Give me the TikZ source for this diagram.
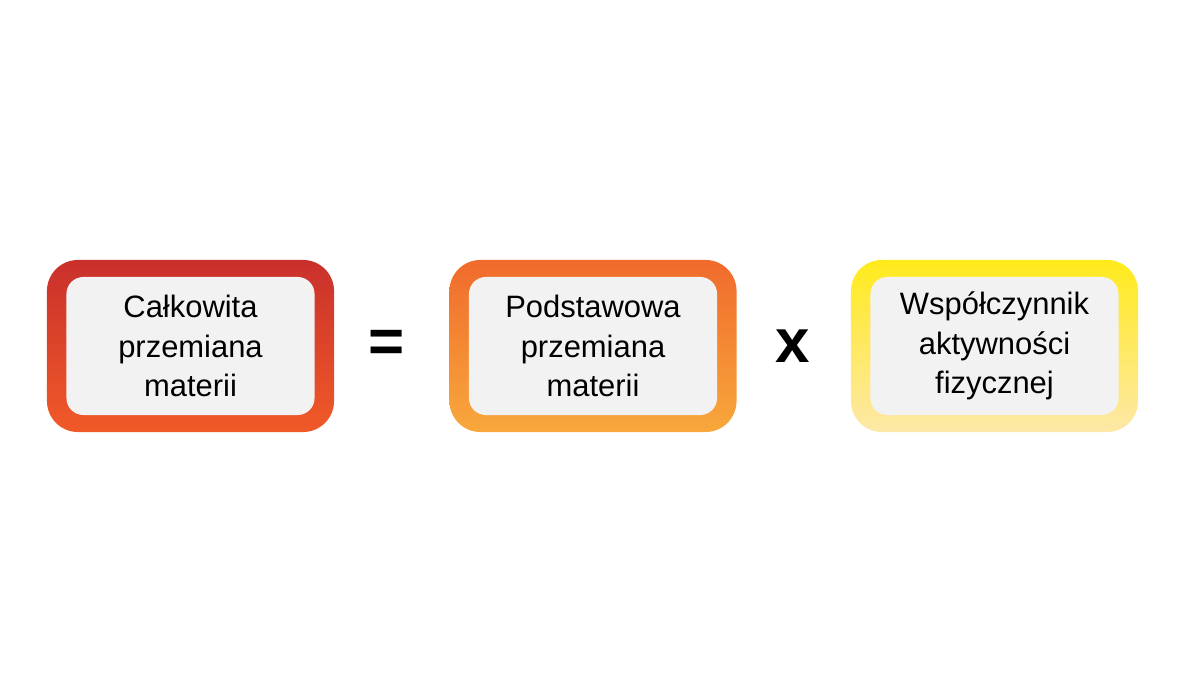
\documentclass[tikz,border=0pt]{standalone}
\usepackage{fontspec}
\setmainfont{Liberation Sans}
\usetikzlibrary{positioning}
\definecolor{redtop}{HTML}{C9302C}
\definecolor{redbot}{HTML}{F05A28}
\definecolor{orgtop}{HTML}{F06A2C}
\definecolor{orgbot}{HTML}{F8A83C}
\definecolor{yeltop}{HTML}{FFEA1C}
\definecolor{yelbot}{HTML}{FDE8A8}
\definecolor{inner}{HTML}{F2F2F2}
\tikzset{
  frame/.style={rounded corners=22pt,minimum width=7.175cm,minimum height=4.3cm},
  card/.style={fill=inner,rounded corners=12pt,minimum width=6.2cm,minimum height=3.45cm,
    align=center,font=\fontsize{22}{28}\selectfont},
  op/.style={font=\fontsize{44}{44}\selectfont\bfseries}
}
\begin{document}
\begin{tikzpicture}[x=0.025cm,y=-0.025cm]
\useasboundingbox (0,0) rectangle (1200,675);
\node[frame,top color=redtop,bottom color=redbot] (f1) at (190.5,346) {};
\node[card] (total) at (f1) {Całkowita\\przemiana\\materii};
\node[frame,top color=orgtop,bottom color=orgbot] (f2) at (593,346) {};
\node[card] (basal) at (f2) {Podstawowa\\przemiana\\materii};
\node[frame,top color=yeltop,bottom color=yelbot] (f3) at (994.5,346) {};
\node[card] (factor) at (f3) {Współczynnik\\aktywności\\fizycznej};
\node[op] (eq) at (387,346) {=};
\node[op] (times) at (793,346) {x};
\end{tikzpicture}
\end{document}
